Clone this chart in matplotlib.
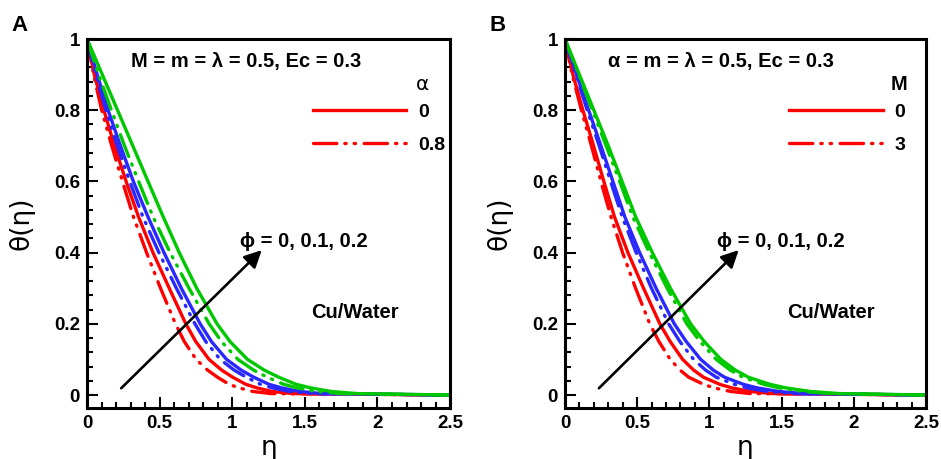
import matplotlib
matplotlib.use("Agg")
import matplotlib.pyplot as plt
from matplotlib.lines import Line2D
from matplotlib.ticker import MultipleLocator

# temperature levels shared by all curves, eta per curve
theta_levels = [1, .9, .8, .7, .6, .5, .4, .3, .2, .15, .1, .07, .05, .03, .02, .01, .004, 0]

# panel A: phi = 0 (red), 0.1 (blue), 0.2 (green); solid alpha=0, dash-dot-dot alpha=0.8
A_red_solid = [0, .05, .116, .189, .269, .355, .454, .566, .68, .749, .84, .927, 1.003, 1.094, 1.17, 1.277, 1.414, 2.5]
A_red_dash = [0, .045, .101, .17, .244, .32, .41, .506, .609, .67, .751, .83, .898, .979, 1.047, 1.142, 1.265, 2.5]
A_blue_solid = [0, .07, .145, .23, .319, .42, .53, .649, .779, .857, .961, 1.061, 1.148, 1.253, 1.34, 1.462, 1.618, 2.5]
A_blue_dash = [0, .06, .13, .208, .294, .385, .495, .615, .743, .818, .917, 1.013, 1.096, 1.195, 1.278, 1.394, 1.544, 2.5]
A_green_solid = [0, .105, .21, .315, .42, .525, .635, .755, .895, .985, 1.105, 1.22, 1.32, 1.44, 1.54, 1.68, 1.86, 2.5]
A_green_dash = [0, .08, .168, .258, .355, .455, .572, .702, .841, .926, 1.039, 1.147, 1.241, 1.354, 1.448, 1.579, 1.748, 2.5]

# panel B: solid M=0, dash-dot-dot M=3
B_red_solid = [0, .055, .124, .198, .269, .343, .436, .544, .657, .729, .815, .891, .959, 1.072, 1.155, 1.284, 1.435, 2.5]
B_red_dash = [0, .05, .114, .183, .249, .319, .399, .489, .587, .651, .729, .797, .857, .959, 1.033, 1.148, 1.283, 2.5]
B_blue_solid = [0, .08, .164, .249, .332, .415, .517, .631, .757, .84, .94, 1.027, 1.105, 1.235, 1.331, 1.479, 1.653, 2.5]
B_blue_dash = [0, .075, .154, .237, .316, .397, .493, .599, .718, .796, .891, .974, 1.048, 1.172, 1.262, 1.403, 1.568, 2.5]
B_green_solid = [0, .10, .20, .30, .395, .49, .605, .73, .87, .965, 1.08, 1.18, 1.27, 1.42, 1.53, 1.70, 1.90, 2.5]
B_green_dash = [0, .095, .19, .285, .379, .47, .584, .708, .844, .936, 1.048, 1.145, 1.232, 1.377, 1.484, 1.649, 1.843, 2.5]

RED, BLUE, GREEN = "#ff0000", "#2828ff", "#00c800"
LW = 2.4
DDOT = (0, (7, 2.4, 0.4, 2.4, 0.4, 2.6))
BOLD = dict(family="Liberation Sans", weight="bold")

panels = [
    dict(letter="A", curves=[(A_red_solid, RED, "-"), (A_red_dash, RED, DDOT),
                             (A_blue_solid, BLUE, "-"), (A_blue_dash, BLUE, DDOT),
                             (A_green_solid, GREEN, "-"), (A_green_dash, GREEN, DDOT)],
         params="M = m = \u03bb = 0.5, Ec = 0.3", legtitle="\u03b1", leglabels=["0", "0.8"],
         rect=[0.0925, 0.1111, 0.3858, 0.8039]),
    dict(letter="B", curves=[(B_red_solid, RED, "-"), (B_red_dash, RED, DDOT),
                             (B_blue_solid, BLUE, "-"), (B_blue_dash, BLUE, DDOT),
                             (B_green_solid, GREEN, "-"), (B_green_dash, GREEN, DDOT)],
         params="\u03b1 = m = \u03bb = 0.5, Ec = 0.3", legtitle="M", leglabels=["0", "3"],
         rect=[0.6004, 0.1111, 0.3836, 0.8039]),
]

fig = plt.figure(figsize=(9.41, 4.59), dpi=100)

for p in panels:
    ax = fig.add_axes(p["rect"])
    for eta, col, ls in p["curves"]:
        ax.plot(eta, theta_levels, color=col, linestyle=ls, lw=LW, dash_capstyle="round")

    ax.set_xlim(0, 2.5)
    ax.set_ylim(-0.0365, 1.0)
    ax.xaxis.set_minor_locator(MultipleLocator(0.1))
    ax.yaxis.set_minor_locator(MultipleLocator(0.04))
    ax.tick_params(which="both", direction="in", width=1.5, top=False, right=False)
    ax.tick_params(which="major", length=8)
    ax.tick_params(which="minor", length=4)
    ax.tick_params(axis="x", pad=5)
    ax.tick_params(axis="y", pad=5)
    ax.set_xticks([0, 0.5, 1, 1.5, 2, 2.5])
    ax.set_xticklabels(["0", "0.5", "1", "1.5", "2", "2.5"])
    ax.set_yticks([0, 0.2, 0.4, 0.6, 0.8, 1])
    ax.set_yticklabels(["0", "0.2", "0.4", "0.6", "0.8", "1"])
    for lab in ax.get_xticklabels() + ax.get_yticklabels():
        lab.set_fontfamily("Liberation Sans")
        lab.set_fontweight("bold")
        lab.set_fontsize(13.5)
    for s in ax.spines.values():
        s.set_linewidth(2.2)

    ax.set_xlabel("\u03b7", fontsize=19, family="DejaVu Sans", labelpad=2)
    ax.set_ylabel("\u03b8(\u03b7)", fontsize=19, family="DejaVu Sans", labelpad=14)

    ax.text(0.30, 0.938, p["params"], fontsize=14.5, va="center", ha="left", **BOLD)
    ax.text(1.05, 0.431, "\u03d5 = 0, 0.1, 0.2", fontsize=14.5, va="center", ha="left", **BOLD)
    ax.text(1.54, 0.232, "Cu/Water", fontsize=14.5, va="center", ha="left", **BOLD)

    ax.annotate("", xy=(1.203, 0.407), xytext=(0.235, 0.019),
                arrowprops=dict(arrowstyle="-|>", mutation_scale=26, lw=1.9, color="k",
                                shrinkA=0, shrinkB=0))

    handles = [Line2D([], [], color=RED, lw=LW, linestyle="-"),
               Line2D([], [], color=RED, lw=LW, linestyle=DDOT, dash_capstyle="round")]
    ax.legend(handles, p["leglabels"], loc="upper left", bbox_to_anchor=(0.622, 0.826),
              frameon=False, borderpad=0, borderaxespad=0, handlelength=4.8,
              handletextpad=0.6, labelspacing=0.8,
              prop=dict(family="Liberation Sans", weight="bold", size=14))
    ax.text(2.31, 0.873, p["legtitle"], fontsize=14.5, va="center", ha="center",
            family="DejaVu Sans" if p["legtitle"] != "M" else "Liberation Sans",
            weight="bold" if p["legtitle"] == "M" else "normal")

    fig.text(p["rect"][0] - 0.072, 0.9455, p["letter"], fontsize=16, ha="center", va="center", **BOLD)

fig.savefig("out.png", dpi=100)
